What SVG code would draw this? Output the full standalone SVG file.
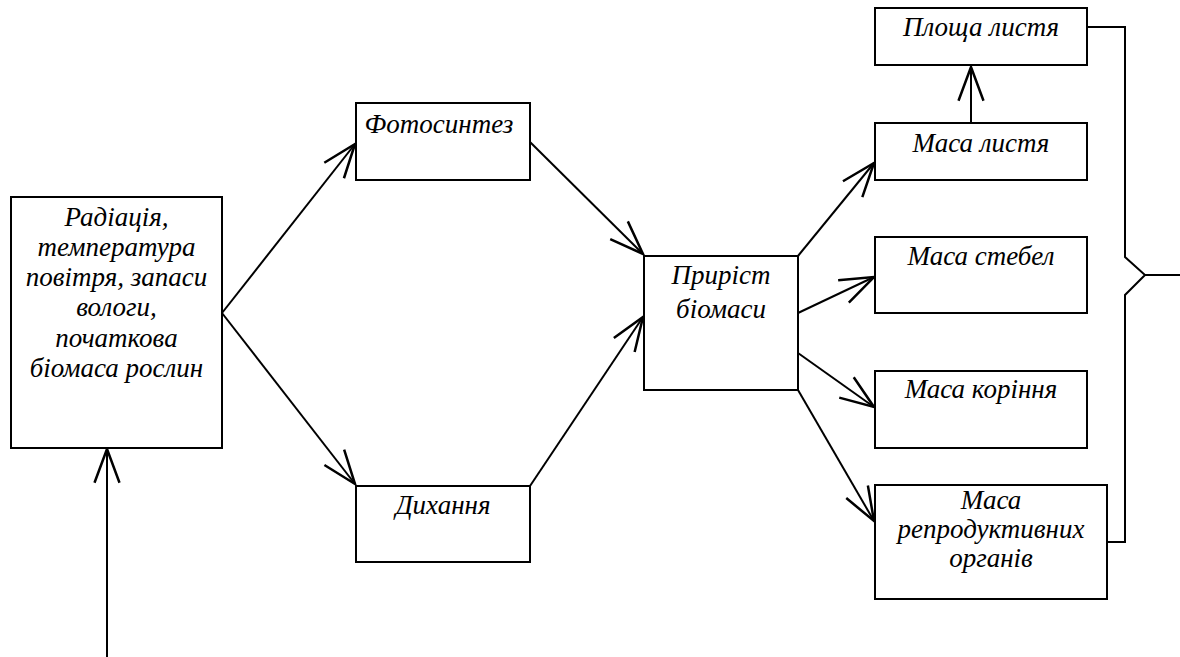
<svg xmlns="http://www.w3.org/2000/svg" width="1180" height="657" viewBox="0 0 1180 657">
<style>
.box{fill:#fff;stroke:#000;stroke-width:2}
.t{font-family:"Liberation Serif","Times New Roman",serif;font-style:italic;font-size:27px;fill:#000;text-anchor:middle}
.c{fill:none;stroke:#000;stroke-width:2}
.a{fill:none;stroke:#000;stroke-width:2;marker-end:url(#ah)}
</style>
<defs>
<marker id="ah" markerUnits="userSpaceOnUse" markerWidth="40" markerHeight="40" viewBox="-30 -15 32 30" refX="0" refY="0" orient="auto">
<path d="M-27,-10 L0,0 L-27,10" fill="none" stroke="#000" stroke-width="2"/>
</marker>
</defs>
<rect width="1180" height="657" fill="#fff"/>
<g id="connectors">
<line class="a" x1="107" y1="657" x2="107" y2="449"/>
<line class="a" x1="222" y1="313" x2="355" y2="144"/>
<line class="a" x1="222" y1="313" x2="355" y2="484"/>
<line class="a" x1="530" y1="142" x2="643" y2="254"/>
<line class="a" x1="530" y1="486" x2="643" y2="317"/>
<line class="a" x1="798" y1="256" x2="874" y2="163"/>
<line class="a" x1="798" y1="313" x2="874" y2="277"/>
<line class="a" x1="798" y1="353" x2="874" y2="407"/>
<line class="a" x1="798" y1="390" x2="874" y2="521"/>
<line class="a" x1="971" y1="123" x2="971" y2="67"/>
<polyline class="c" points="1087,27 1125,27 1125,257 1145,275 1125,295 1125,542 1107,542"/>
<line class="c" x1="1145" y1="275" x2="1180" y2="275"/>
</g>
<g id="n-factors">
<rect class="box" x="11" y="197" width="211" height="251"/>
<text class="t" x="116.5" y="225.5">Радіація,</text>
<text class="t" x="116.5" y="255.8">температура</text>
<text class="t" x="116.5" y="286">повітря, запаси</text>
<text class="t" x="116.5" y="316.2">вологи,</text>
<text class="t" x="116.5" y="346.5">початкова</text>
<text class="t" x="116.5" y="376.7">біомаса рослин</text>
</g>
<g id="n-photosynthesis">
<rect class="box" x="356" y="103" width="174" height="77"/>
<text class="t" x="439" y="133">Фотосинтез</text>
</g>
<g id="n-respiration">
<rect class="box" x="356" y="486" width="174" height="76"/>
<text class="t" x="443" y="514">Дихання</text>
</g>
<g id="n-growth">
<rect class="box" x="644" y="256" width="154" height="134"/>
<text class="t" x="721" y="284">Приріст</text>
<text class="t" x="721" y="318">біомаси</text>
</g>
<g id="n-leafarea">
<rect class="box" x="875" y="8" width="212" height="57"/>
<text class="t" x="981" y="36">Площа листя</text>
</g>
<g id="n-leafmass">
<rect class="box" x="875" y="123" width="212" height="57"/>
<text class="t" x="981" y="152">Маса листя</text>
</g>
<g id="n-stem">
<rect class="box" x="875" y="237" width="212" height="76"/>
<text class="t" x="981" y="265">Маса стебел</text>
</g>
<g id="n-root">
<rect class="box" x="875" y="371" width="212" height="77"/>
<text class="t" x="981" y="398">Маса коріння</text>
</g>
<g id="n-repro">
<rect class="box" x="875" y="485" width="232" height="114"/>
<text class="t" x="991" y="509">Маса</text>
<text class="t" x="991" y="538">репродуктивних</text>
<text class="t" x="991" y="567">органів</text>
</g>
</svg>
